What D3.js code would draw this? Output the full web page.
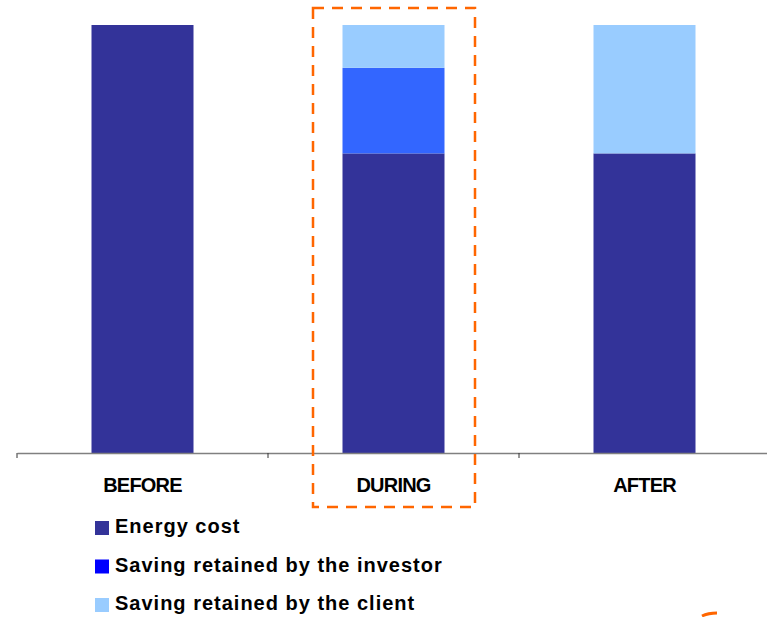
<!DOCTYPE html>
<html>
<head>
<meta charset="utf-8">
<script src="https://cdn.jsdelivr.net/npm/d3@7"></script>
<style>
  body { margin: 0; background: #fff; }
  svg { display: block; font-family: "Liberation Sans", Arial, sans-serif; }
</style>
</head>
<body>
<div id="chart"></div>
<script>
// data, in percent of the energy cost before
var categories = ["BEFORE", "DURING", "AFTER"];
var energyCost = [100, 70, 70];
var investorSaving = [0, 20, 0];
var clientSaving = [0, 10, 30];

var seriesNames = ["Energy cost", "Saving retained by the investor", "Saving retained by the client"];
var barColors = ["#333399", "#3366FF", "#99CCFF"];
var legendColors = ["#333399", "#0000FF", "#99CCFF"];

var width = 767, height = 617;

var svg = d3.select("#chart").append("svg")
    .attr("width", width)
    .attr("height", height);

var x = d3.scaleBand()
    .domain(categories)
    .range([17, 770])
    .padding(0);

var y = d3.scaleLinear()
    .domain([0, 100])
    .range([453, 25]);

var rows = categories.map(function(c, i) {
  return { cat: c, energy: energyCost[i], investor: investorSaving[i], client: clientSaving[i] };
});

var stack = d3.stack().keys(["energy", "investor", "client"]);
var layers = stack(rows);

var barW = 102;

svg.selectAll("g.layer")
    .data(layers)
    .enter().append("g")
    .attr("class", "layer")
    .attr("fill", function(d, i) { return barColors[i]; })
    .selectAll("rect")
    .data(function(d) { return d; })
    .enter().append("rect")
    .attr("x", function(d) { return x(d.data.cat) + x.bandwidth() / 2 - barW / 2; })
    .attr("y", function(d) { return y(d[1]); })
    .attr("width", barW)
    .attr("height", function(d) { return y(d[0]) - y(d[1]); });

// category axis
var axis = svg.append("g")
    .attr("transform", "translate(0,453)")
    .call(d3.axisBottom(x).tickSize(0).tickFormat(""));
axis.select(".domain").attr("stroke", "#808080").attr("stroke-width", 1.5);

var tickPos = x.domain().map(function(c) { return x(c); });
svg.selectAll("line.tick")
    .data(tickPos)
    .enter().append("line")
    .attr("class", "tick")
    .attr("x1", function(d) { return d; })
    .attr("x2", function(d) { return d; })
    .attr("y1", 453)
    .attr("y2", 458)
    .attr("stroke", "#333")
    .attr("stroke-width", 1);

svg.selectAll("text.cat")
    .data(categories)
    .enter().append("text")
    .attr("class", "cat")
    .attr("x", function(d) { return x(d) + x.bandwidth() / 2; })
    .attr("y", 492)
    .attr("text-anchor", "middle")
    .attr("font-size", "20px")
    .attr("font-weight", "bold")
    .attr("letter-spacing", "-0.8px")
    .text(function(d) { return d; });

// dashed highlight around DURING
svg.append("rect")
    .attr("x", 313)
    .attr("y", 8)
    .attr("width", 162)
    .attr("height", 499)
    .attr("fill", "none")
    .attr("stroke", "#FF6600")
    .attr("stroke-width", 2.5)
    .attr("stroke-dasharray", "11,8");

// legend
var legend = svg.selectAll("g.legend")
    .data(seriesNames)
    .enter().append("g")
    .attr("class", "legend")
    .attr("transform", function(d, i) { return "translate(95," + (521 + i * 38.5) + ")"; });

legend.append("rect")
    .attr("width", 14)
    .attr("height", 14)
    .attr("fill", function(d, i) { return legendColors[i]; });

legend.append("text")
    .attr("x", 20)
    .attr("y", 12)
    .attr("font-size", "20px")
    .attr("font-weight", "bold")
    .attr("letter-spacing", "1px")
    .text(function(d) { return d; });

// small orange stroke at bottom right
svg.append("path")
    .attr("d", "M702,616 Q708,613 717,613")
    .attr("fill", "none")
    .attr("stroke", "#FF6600")
    .attr("stroke-width", 3);
</script>
</body>
</html>
